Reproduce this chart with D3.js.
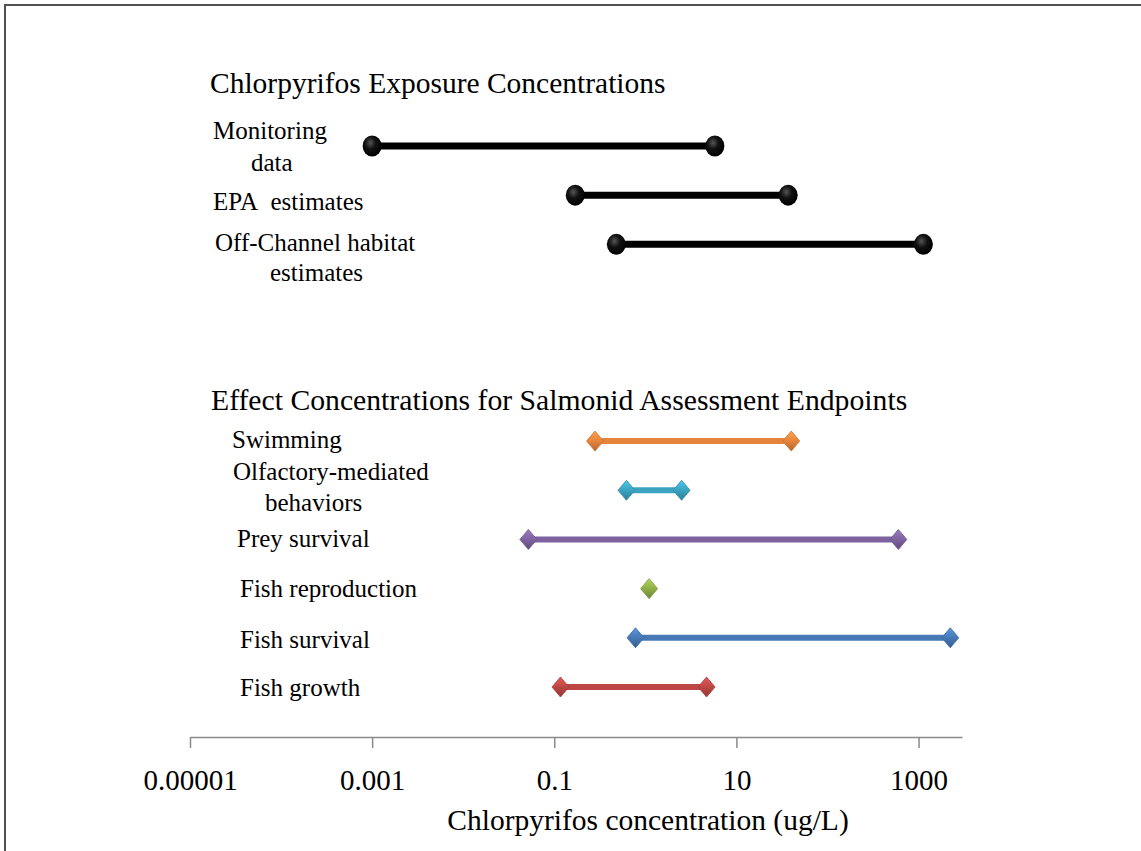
<!DOCTYPE html>
<html>
<head>
<meta charset="utf-8">
<script src="https://cdn.jsdelivr.net/npm/d3@7"></script>
<style>
  body { margin: 0; background: white; }
  text { font-family: "Liberation Serif", "Times New Roman", serif; fill: #000; }
</style>
</head>
<body>
<div id="container"></div>
<script>
// data (ug/L, log scale)
const exposureNames = ["Monitoring data", "EPA estimates", "Off-Channel habitat estimates"];
const exposureLow = [0.001, 0.17, 0.48];
const exposureHigh = [5.8, 37, 1130];

const effectNames = ["Swimming", "Olfactory-mediated behaviors", "Prey survival", "Fish reproduction", "Fish survival", "Fish growth"];
const effectLow = [0.28, 0.62, 0.052, 1.1, 0.78, 0.117];
const effectHigh = [40, 2.5, 600, 1.1, 2230, 4.7];
const effectColors = ["#E6843C", "#3BA3C0", "#7E62A0", "#8EAE45", "#4679B6", "#BC4744"];

const tickValues = [0.00001, 0.001, 0.1, 10, 1000];
const tickLabels = ["0.00001", "0.001", "0.1", "10", "1000"];

const width = 1141, height = 851;

const svg = d3.select("#container")
  .append("svg")
  .attr("width", width)
  .attr("height", height);

// frame: only top + left edges show in the original
svg.append("path")
  .attr("d", "M5,851 L5,5 L1141,5")
  .attr("fill", "none")
  .attr("stroke", "#505050")
  .attr("stroke-width", 2);

// scales
const x = d3.scaleLog()
  .domain([0.00001, 3000])
  .range([190, 962]);

// rows 0-2 exposure, 3-5 empty gap, 6-11 effects
const y = d3.scaleLinear()
  .domain([0, 11])
  .range([146, 687]);

// gradients for the little 3d markers
const defs = svg.append("defs");
const ball = defs.append("radialGradient")
  .attr("id", "ball")
  .attr("cx", "40%").attr("cy", "35%").attr("r", "65%");
ball.append("stop").attr("offset", "0%").attr("stop-color", "#555");
ball.append("stop").attr("offset", "45%").attr("stop-color", "#111");
ball.append("stop").attr("offset", "100%").attr("stop-color", "#000");

effectColors.forEach((c, i) => {
  const g = defs.append("linearGradient")
    .attr("id", "dia" + i)
    .attr("x1", 0).attr("y1", 0).attr("x2", 0).attr("y2", 1);
  g.append("stop").attr("offset", "0%").attr("stop-color", d3.color(c).brighter(0.6));
  g.append("stop").attr("offset", "50%").attr("stop-color", c);
  g.append("stop").attr("offset", "100%").attr("stop-color", d3.color(c).darker(0.7));
});

// x axis
const xAxis = d3.axisBottom(x)
  .tickValues(tickValues)
  .tickFormat((d, i) => tickLabels[i])
  .tickSize(11)
  .tickSizeOuter(0);

const axisG = svg.append("g")
  .attr("transform", "translate(0,737)")
  .call(xAxis);
axisG.select(".domain").attr("stroke", "#8a8a8a").attr("stroke-width", 1.5);
axisG.selectAll(".tick line").attr("stroke", "#8a8a8a").attr("stroke-width", 1.5);
axisG.selectAll(".tick text")
  .attr("y", 53)
  .attr("dy", 0)
  .style("font-size", "29px")
  .style("font-family", "'Liberation Serif', 'Times New Roman', serif")
  .attr("fill", "#000");

svg.append("text")
  .attr("x", 648)
  .attr("y", 830)
  .attr("text-anchor", "middle")
  .style("font-size", "29.5px")
  .text("Chlorpyrifos concentration (ug/L)");

// section titles
svg.append("text")
  .attr("x", 210).attr("y", 93)
  .style("font-size", "29.5px")
  .text("Chlorpyrifos Exposure Concentrations");

svg.append("text")
  .attr("x", 211).attr("y", 410)
  .style("font-size", "29.7px")
  .text("Effect Concentrations for Salmonid Assessment Endpoints");

// row labels, left edges as in the text boxes (lines, left x of each line, baseline offset from row)
const exposureLabelLayout = [
  { lines: ["Monitoring", "data"], lx: [213, 251], dy: [-7, 25] },
  { lines: ["EPA\u00a0\u00a0estimates"], lx: [213], dy: [15] },
  { lines: ["Off-Channel habitat", "estimates"], lx: [215, 270], dy: [7, 37] }
];
const effectLabelLayout = [
  { lines: ["Swimming"], lx: [232], dy: [7] },
  { lines: ["Olfactory-mediated", "behaviors"], lx: [233, 265], dy: [-10, 21] },
  { lines: ["Prey survival"], lx: [237], dy: [8] },
  { lines: ["Fish reproduction"], lx: [240], dy: [8] },
  { lines: ["Fish survival"], lx: [240], dy: [10] },
  { lines: ["Fish growth"], lx: [240], dy: [9] }
];

function drawLabel(layout, rowIndex) {
  const t = svg.append("text")
    .style("font-size", "25px");
  layout.lines.forEach((line, j) => {
    t.append("tspan")
      .attr("x", layout.lx[j])
      .attr("y", y(rowIndex) + layout.dy[j])
      .text(line);
  });
}

exposureNames.forEach((n, i) => drawLabel(exposureLabelLayout[i], i));
effectNames.forEach((n, i) => drawLabel(effectLabelLayout[i], i + 6));

// exposure ranges: thick black bars with balls on the ends
const expData = exposureNames.map((n, i) => ({ name: n, lo: exposureLow[i], hi: exposureHigh[i], row: i }));

svg.selectAll(".exp-line")
  .data(expData)
  .join("line")
  .attr("class", "exp-line")
  .attr("x1", d => x(d.lo))
  .attr("x2", d => x(d.hi))
  .attr("y1", d => y(d.row))
  .attr("y2", d => y(d.row))
  .attr("stroke", "#000")
  .attr("stroke-width", 7);

svg.selectAll(".exp-dot")
  .data(expData.flatMap(d => [{ v: d.lo, row: d.row }, { v: d.hi, row: d.row }]))
  .join("ellipse")
  .attr("class", "exp-dot")
  .attr("cx", d => x(d.v))
  .attr("cy", d => y(d.row))
  .attr("rx", 9.5)
  .attr("ry", 10.5)
  .attr("fill", "url(#ball)");

// effect ranges: coloured bars with diamonds
const effData = effectNames.map((n, i) => ({ name: n, lo: effectLow[i], hi: effectHigh[i], row: i + 6, k: i }));

svg.selectAll(".eff-line")
  .data(effData.filter(d => d.lo !== d.hi))
  .join("line")
  .attr("class", "eff-line")
  .attr("x1", d => x(d.lo))
  .attr("x2", d => x(d.hi))
  .attr("y1", d => y(d.row))
  .attr("y2", d => y(d.row))
  .attr("stroke", d => effectColors[d.k])
  .attr("stroke-width", 6);

const diamond = "M0,-10 L8.5,0 L0,10 L-8.5,0 Z";

svg.selectAll(".eff-dia")
  .data(effData.flatMap(d => d.lo === d.hi ? [{ v: d.lo, row: d.row, k: d.k }] : [{ v: d.lo, row: d.row, k: d.k }, { v: d.hi, row: d.row, k: d.k }]))
  .join("path")
  .attr("class", "eff-dia")
  .attr("d", diamond)
  .attr("transform", d => `translate(${x(d.v)},${y(d.row)})`)
  .attr("fill", d => `url(#dia${d.k})`)
  .attr("stroke", d => d3.color(effectColors[d.k]).darker(0.4))
  .attr("stroke-width", 0.8);
</script>
</body>
</html>
